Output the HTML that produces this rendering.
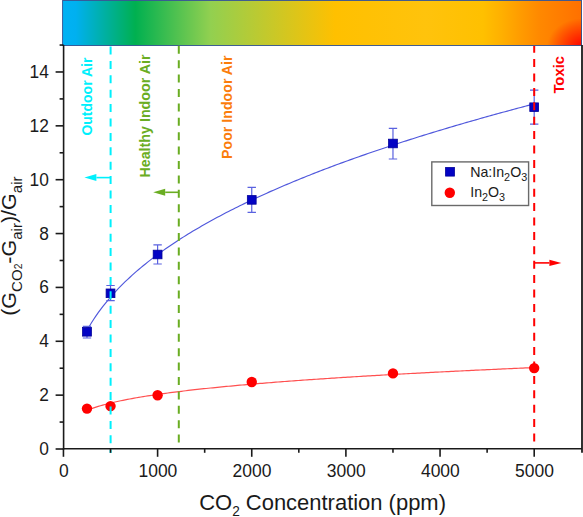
<!DOCTYPE html>
<html><head><meta charset="utf-8"><style>
html,body{margin:0;padding:0;background:#fff;}
svg{display:block;}
text{font-family:"Liberation Sans",sans-serif;}
</style></head><body>
<svg width="583" height="517" viewBox="0 0 583 517">
<defs>
<linearGradient id="bar" x1="0" y1="0" x2="1" y2="0">
<stop offset="0" stop-color="#00B2F4"/>
<stop offset="0.025" stop-color="#00B0F0"/>
<stop offset="0.14" stop-color="#00B050"/>
<stop offset="0.285" stop-color="#92D050"/>
<stop offset="0.525" stop-color="#FFC000"/>
<stop offset="0.70" stop-color="#FFC30C"/>
<stop offset="0.81" stop-color="#FFC000"/>
<stop offset="0.845" stop-color="#FFB000"/>
<stop offset="0.881" stop-color="#FF9C00"/>
<stop offset="0.92" stop-color="#FF8800"/>
<stop offset="1" stop-color="#FF7000"/>
</linearGradient>
<radialGradient id="redc" gradientUnits="userSpaceOnUse" cx="583" cy="47" r="36" gradientTransform="translate(583,47) scale(1,0.8) translate(-583,-47)">
<stop offset="0" stop-color="#FF0000" stop-opacity="1"/>
<stop offset="1" stop-color="#FF0000" stop-opacity="0"/>
</radialGradient>
</defs>
<rect x="0" y="0" width="583" height="517" fill="#fff"/>

<rect x="62.7" y="0.5" width="519" height="45" fill="url(#bar)"/>
<rect x="62.7" y="0.5" width="519" height="45" fill="url(#redc)"/>
<rect x="62.6" y="0.45" width="518.9" height="45" fill="none" stroke="#2F4F8F" stroke-width="0.9"/>
<path d="M86.99,330.37 L89.23,326.45 L91.48,322.75 L93.73,319.23 L95.98,315.87 L98.22,312.66 L100.47,309.59 L102.72,306.63 L104.97,303.78 L107.21,301.02 L109.46,298.36 L111.71,295.77 L113.96,293.27 L116.20,290.83 L118.45,288.46 L120.70,286.15 L122.94,283.90 L125.19,281.71 L127.44,279.56 L129.69,277.46 L131.93,275.41 L134.18,273.40 L136.43,271.43 L138.68,269.50 L140.92,267.61 L143.17,265.75 L145.42,263.93 L147.66,262.13 L149.91,260.37 L152.16,258.64 L154.41,256.93 L156.65,255.25 L158.90,253.60 L161.15,251.97 L163.40,250.37 L165.64,248.79 L167.89,247.23 L170.14,245.70 L172.38,244.18 L174.63,242.68 L176.88,241.21 L179.13,239.75 L181.37,238.31 L183.62,236.88 L185.87,235.48 L188.12,234.09 L190.36,232.72 L192.61,231.36 L194.86,230.02 L197.11,228.69 L199.35,227.38 L201.60,226.08 L203.85,224.79 L206.09,223.52 L208.34,222.26 L210.59,221.01 L212.84,219.78 L215.08,218.55 L217.33,217.34 L219.58,216.14 L221.83,214.95 L224.07,213.77 L226.32,212.61 L228.57,211.45 L230.81,210.30 L233.06,209.16 L235.31,208.04 L237.56,206.92 L239.80,205.81 L242.05,204.71 L244.30,203.62 L246.55,202.53 L248.79,201.46 L251.04,200.39 L253.29,199.34 L255.53,198.29 L257.78,197.25 L260.03,196.21 L262.28,195.18 L264.52,194.17 L266.77,193.15 L269.02,192.15 L271.27,191.15 L273.51,190.16 L275.76,189.18 L278.01,188.20 L280.26,187.23 L282.50,186.27 L284.75,185.31 L287.00,184.36 L289.24,183.41 L291.49,182.47 L293.74,181.54 L295.99,180.61 L298.23,179.69 L300.48,178.78 L302.73,177.86 L304.98,176.96 L307.22,176.06 L309.47,175.17 L311.72,174.28 L313.96,173.39 L316.21,172.51 L318.46,171.64 L320.71,170.77 L322.95,169.91 L325.20,169.05 L327.45,168.19 L329.70,167.34 L331.94,166.50 L334.19,165.66 L336.44,164.82 L338.68,163.99 L340.93,163.16 L343.18,162.34 L345.43,161.52 L347.67,160.71 L349.92,159.90 L352.17,159.09 L354.42,158.29 L356.66,157.49 L358.91,156.70 L361.16,155.91 L363.41,155.12 L365.65,154.34 L367.90,153.56 L370.15,152.78 L372.39,152.01 L374.64,151.24 L376.89,150.48 L379.14,149.71 L381.38,148.96 L383.63,148.20 L385.88,147.45 L388.13,146.70 L390.37,145.96 L392.62,145.22 L394.87,144.48 L397.11,143.75 L399.36,143.02 L401.61,142.29 L403.86,141.56 L406.10,140.84 L408.35,140.12 L410.60,139.41 L412.85,138.69 L415.09,137.98 L417.34,137.28 L419.59,136.57 L421.84,135.87 L424.08,135.17 L426.33,134.48 L428.58,133.78 L430.82,133.09 L433.07,132.41 L435.32,131.72 L437.57,131.04 L439.81,130.36 L442.06,129.68 L444.31,129.01 L446.56,128.34 L448.80,127.67 L451.05,127.00 L453.30,126.34 L455.54,125.67 L457.79,125.02 L460.04,124.36 L462.29,123.70 L464.53,123.05 L466.78,122.40 L469.03,121.75 L471.28,121.11 L473.52,120.47 L475.77,119.83 L478.02,119.19 L480.26,118.55 L482.51,117.92 L484.76,117.29 L487.01,116.66 L489.25,116.03 L491.50,115.40 L493.75,114.78 L496.00,114.16 L498.24,113.54 L500.49,112.92 L502.74,112.31 L504.99,111.69 L507.23,111.08 L509.48,110.47 L511.73,109.87 L513.97,109.26 L516.22,108.66 L518.47,108.06 L520.72,107.46 L522.96,106.86 L525.21,106.27 L527.46,105.67 L529.71,105.08 L531.95,104.49 L534.20,103.90" fill="none" stroke="#5058DC" stroke-width="1.15"/>
<path d="M86.99,410.32 L89.23,409.43 L91.48,408.60 L93.73,407.82 L95.98,407.08 L98.22,406.38 L100.47,405.71 L102.72,405.07 L104.97,404.46 L107.21,403.88 L109.46,403.31 L111.71,402.77 L113.96,402.24 L116.20,401.73 L118.45,401.24 L120.70,400.76 L122.94,400.30 L125.19,399.85 L127.44,399.41 L129.69,398.98 L131.93,398.57 L134.18,398.16 L136.43,397.76 L138.68,397.38 L140.92,397.00 L143.17,396.63 L145.42,396.26 L147.66,395.91 L149.91,395.56 L152.16,395.22 L154.41,394.88 L156.65,394.55 L158.90,394.23 L161.15,393.91 L163.40,393.60 L165.64,393.29 L167.89,392.99 L170.14,392.69 L172.38,392.40 L174.63,392.11 L176.88,391.83 L179.13,391.55 L181.37,391.28 L183.62,391.00 L185.87,390.74 L188.12,390.47 L190.36,390.21 L192.61,389.96 L194.86,389.70 L197.11,389.45 L199.35,389.21 L201.60,388.96 L203.85,388.72 L206.09,388.48 L208.34,388.25 L210.59,388.01 L212.84,387.78 L215.08,387.56 L217.33,387.33 L219.58,387.11 L221.83,386.89 L224.07,386.67 L226.32,386.45 L228.57,386.24 L230.81,386.03 L233.06,385.82 L235.31,385.61 L237.56,385.41 L239.80,385.21 L242.05,385.01 L244.30,384.81 L246.55,384.61 L248.79,384.41 L251.04,384.22 L253.29,384.03 L255.53,383.84 L257.78,383.65 L260.03,383.46 L262.28,383.28 L264.52,383.09 L266.77,382.91 L269.02,382.73 L271.27,382.55 L273.51,382.37 L275.76,382.20 L278.01,382.02 L280.26,381.85 L282.50,381.68 L284.75,381.51 L287.00,381.34 L289.24,381.17 L291.49,381.00 L293.74,380.83 L295.99,380.67 L298.23,380.51 L300.48,380.34 L302.73,380.18 L304.98,380.02 L307.22,379.86 L309.47,379.71 L311.72,379.55 L313.96,379.39 L316.21,379.24 L318.46,379.09 L320.71,378.93 L322.95,378.78 L325.20,378.63 L327.45,378.48 L329.70,378.33 L331.94,378.18 L334.19,378.04 L336.44,377.89 L338.68,377.75 L340.93,377.60 L343.18,377.46 L345.43,377.32 L347.67,377.18 L349.92,377.04 L352.17,376.90 L354.42,376.76 L356.66,376.62 L358.91,376.48 L361.16,376.34 L363.41,376.21 L365.65,376.07 L367.90,375.94 L370.15,375.81 L372.39,375.67 L374.64,375.54 L376.89,375.41 L379.14,375.28 L381.38,375.15 L383.63,375.02 L385.88,374.89 L388.13,374.76 L390.37,374.63 L392.62,374.51 L394.87,374.38 L397.11,374.26 L399.36,374.13 L401.61,374.01 L403.86,373.88 L406.10,373.76 L408.35,373.64 L410.60,373.52 L412.85,373.40 L415.09,373.28 L417.34,373.16 L419.59,373.04 L421.84,372.92 L424.08,372.80 L426.33,372.68 L428.58,372.56 L430.82,372.45 L433.07,372.33 L435.32,372.22 L437.57,372.10 L439.81,371.99 L442.06,371.87 L444.31,371.76 L446.56,371.65 L448.80,371.53 L451.05,371.42 L453.30,371.31 L455.54,371.20 L457.79,371.09 L460.04,370.98 L462.29,370.87 L464.53,370.76 L466.78,370.65 L469.03,370.54 L471.28,370.44 L473.52,370.33 L475.77,370.22 L478.02,370.11 L480.26,370.01 L482.51,369.90 L484.76,369.80 L487.01,369.69 L489.25,369.59 L491.50,369.48 L493.75,369.38 L496.00,369.28 L498.24,369.18 L500.49,369.07 L502.74,368.97 L504.99,368.87 L507.23,368.77 L509.48,368.67 L511.73,368.57 L513.97,368.47 L516.22,368.37 L518.47,368.27 L520.72,368.17 L522.96,368.07 L525.21,367.97 L527.46,367.88 L529.71,367.78 L531.95,367.68 L534.20,367.58" fill="none" stroke="#FF5050" stroke-width="1.2"/>
<path d="M86.99,326.4 L86.99,338 M82.79,326.4 L91.19,326.4 M82.79,338 L91.19,338" stroke="#5A62E0" stroke-width="1.2" fill="none"/>
<path d="M110.53,285.5 L110.53,300.6 M106.33,285.5 L114.73,285.5 M106.33,300.6 L114.73,300.6" stroke="#5A62E0" stroke-width="1.2" fill="none"/>
<path d="M157.60,244.8 L157.60,264 M153.40,244.8 L161.80,244.8 M153.40,264 L161.80,264" stroke="#5A62E0" stroke-width="1.2" fill="none"/>
<path d="M251.75,187.4 L251.75,212.4 M247.55,187.4 L255.95,187.4 M247.55,212.4 L255.95,212.4" stroke="#5A62E0" stroke-width="1.2" fill="none"/>
<path d="M392.97,128.3 L392.97,159 M388.77,128.3 L397.17,128.3 M388.77,159 L397.17,159" stroke="#5A62E0" stroke-width="1.2" fill="none"/>
<path d="M534.20,90.2 L534.20,124.2 M530.00,90.2 L538.40,90.2 M530.00,124.2 L538.40,124.2" stroke="#5A62E0" stroke-width="1.2" fill="none"/>
<rect x="82.59" y="327.50" width="8.8" height="8.6" fill="#0303C4" stroke="#00009A" stroke-width="0.8"/>
<rect x="106.12" y="289.00" width="8.8" height="8.6" fill="#0303C4" stroke="#00009A" stroke-width="0.8"/>
<rect x="153.20" y="250.20" width="8.8" height="8.6" fill="#0303C4" stroke="#00009A" stroke-width="0.8"/>
<rect x="247.35" y="195.60" width="8.8" height="8.6" fill="#0303C4" stroke="#00009A" stroke-width="0.8"/>
<rect x="388.57" y="139.20" width="8.8" height="8.6" fill="#0303C4" stroke="#00009A" stroke-width="0.8"/>
<rect x="529.80" y="102.90" width="8.8" height="8.6" fill="#0303C4" stroke="#00009A" stroke-width="0.8"/>
<circle cx="86.99" cy="408.59999999999997" r="5.2" fill="#FF0000"/>
<circle cx="110.53" cy="406.09999999999997" r="5.2" fill="#FF0000"/>
<circle cx="157.60" cy="395.2" r="5.2" fill="#FF0000"/>
<circle cx="251.75" cy="382.0" r="5.2" fill="#FF0000"/>
<circle cx="392.97" cy="373.4" r="5.2" fill="#FF0000"/>
<circle cx="534.20" cy="368.09999999999997" r="5.2" fill="#FF0000"/>
<line x1="110.6" y1="46.5" x2="110.6" y2="453" stroke="#00F0FC" stroke-width="2" stroke-dasharray="8 6.4" stroke-dashoffset="0.00"/>
<line x1="178.8" y1="45.8" x2="178.8" y2="449" stroke="#6AAD22" stroke-width="2" stroke-dasharray="8 6.4" stroke-dashoffset="0.00"/>
<line x1="534.2" y1="46" x2="534.2" y2="449" stroke="#FF0000" stroke-width="2" stroke-dasharray="8 6.4" stroke-dashoffset="1.30"/>
<line x1="110.6" y1="177.6" x2="96.4" y2="177.6" stroke="#00F0FC" stroke-width="1.6"/><path d="M84.4,177.6 L96.4,174.1 L96.4,181.1 Z" fill="#00F0FC"/>
<line x1="178.8" y1="192.3" x2="165.2" y2="192.3" stroke="#6AAD22" stroke-width="1.6"/><path d="M153.2,192.3 L165.2,188.8 L165.2,195.8 Z" fill="#6AAD22"/>
<line x1="534.2" y1="262.9" x2="549.4" y2="262.9" stroke="#FF0000" stroke-width="1.6"/><path d="M561.4,262.9 L549.4,259.7 L549.4,266.09999999999997 Z" fill="#FF0000"/>
<g stroke="#1a1a1a" stroke-width="1.6" fill="none">
<line x1="63.6" y1="45" x2="63.6" y2="449.6"/>
<line x1="62.8" y1="448.8" x2="582" y2="448.8"/>
<line x1="582" y1="45" x2="582" y2="452.8" stroke-width="1.8"/>
<line x1="55.6" y1="449.00" x2="63.6" y2="449.00"/>
<line x1="59.6" y1="422.07" x2="63.6" y2="422.07"/>
<line x1="55.6" y1="395.14" x2="63.6" y2="395.14"/>
<line x1="59.6" y1="368.21" x2="63.6" y2="368.21"/>
<line x1="55.6" y1="341.28" x2="63.6" y2="341.28"/>
<line x1="59.6" y1="314.35" x2="63.6" y2="314.35"/>
<line x1="55.6" y1="287.42" x2="63.6" y2="287.42"/>
<line x1="59.6" y1="260.49" x2="63.6" y2="260.49"/>
<line x1="55.6" y1="233.56" x2="63.6" y2="233.56"/>
<line x1="59.6" y1="206.63" x2="63.6" y2="206.63"/>
<line x1="55.6" y1="179.70" x2="63.6" y2="179.70"/>
<line x1="59.6" y1="152.77" x2="63.6" y2="152.77"/>
<line x1="55.6" y1="125.84" x2="63.6" y2="125.84"/>
<line x1="59.6" y1="98.91" x2="63.6" y2="98.91"/>
<line x1="55.6" y1="71.98" x2="63.6" y2="71.98"/>
<line x1="59.6" y1="45.05" x2="63.6" y2="45.05"/>
<line x1="63.45" y1="448.8" x2="63.45" y2="456.8"/>
<line x1="110.53" y1="448.8" x2="110.53" y2="452.8"/>
<line x1="157.60" y1="448.8" x2="157.60" y2="456.8"/>
<line x1="204.68" y1="448.8" x2="204.68" y2="452.8"/>
<line x1="251.75" y1="448.8" x2="251.75" y2="456.8"/>
<line x1="298.82" y1="448.8" x2="298.82" y2="452.8"/>
<line x1="345.90" y1="448.8" x2="345.90" y2="456.8"/>
<line x1="392.97" y1="448.8" x2="392.97" y2="452.8"/>
<line x1="440.05" y1="448.8" x2="440.05" y2="456.8"/>
<line x1="487.12" y1="448.8" x2="487.12" y2="452.8"/>
<line x1="534.20" y1="448.8" x2="534.20" y2="456.8"/>
</g>
<g font-size="17.5" fill="#1a1a1a">
<text transform="translate(48.8,455.00) scale(0.99,1.02)" text-anchor="end">0</text>
<text transform="translate(48.8,401.14) scale(0.99,1.02)" text-anchor="end">2</text>
<text transform="translate(48.8,347.28) scale(0.99,1.02)" text-anchor="end">4</text>
<text transform="translate(48.8,293.42) scale(0.99,1.02)" text-anchor="end">6</text>
<text transform="translate(48.8,239.56) scale(0.99,1.02)" text-anchor="end">8</text>
<text transform="translate(48.8,185.70) scale(0.99,1.02)" text-anchor="end">10</text>
<text transform="translate(48.8,131.84) scale(0.99,1.02)" text-anchor="end">12</text>
<text transform="translate(48.8,77.98) scale(0.99,1.02)" text-anchor="end">14</text>
<text transform="translate(63.75,476.9) scale(1,1.02)" text-anchor="middle">0</text>
<text transform="translate(157.90,476.9) scale(1,1.02)" text-anchor="middle">1000</text>
<text transform="translate(252.05,476.9) scale(1,1.02)" text-anchor="middle">2000</text>
<text transform="translate(346.20,476.9) scale(1,1.02)" text-anchor="middle">3000</text>
<text transform="translate(440.35,476.9) scale(1,1.02)" text-anchor="middle">4000</text>
<text transform="translate(534.50,476.9) scale(1,1.02)" text-anchor="middle">5000</text>
</g>
<text transform="translate(199.2,510.4) scale(0.9765,1)" font-size="22.5" fill="#1a1a1a">CO<tspan font-size="14" dy="5.6">2</tspan><tspan dy="-5.6"> Concentration (ppm)</tspan></text>
<text transform="translate(16.3,315.8) scale(1,1.024) rotate(-90)" font-size="21" fill="#1a1a1a">(G<tspan font-size="14.7" dy="6">CO</tspan><tspan font-size="10">2</tspan><tspan dy="-6">-G</tspan><tspan font-size="14.7" dy="6">air</tspan><tspan dy="-6">)/G</tspan><tspan font-size="14.7" dy="6">air</tspan></text>
<text transform="translate(91.7,135.6) rotate(-90)" font-size="14" font-weight="bold" fill="#00F0FC">Outdoor Air</text>
<text transform="translate(150.3,177.6) scale(1,1.021) rotate(-90)" font-size="14" font-weight="bold" fill="#6AAD22">Healthy Indoor Air</text>
<text transform="translate(232.4,158.9) scale(1,1.014) rotate(-90)" font-size="14" font-weight="bold" fill="#FB7D0B">Poor Indoor Air</text>
<text transform="translate(564.3,93.6) scale(1,1.06) rotate(-90)" font-size="14" font-weight="bold" fill="#FF0000">Toxic</text>
<rect x="431.8" y="161.9" width="96.8" height="43.6" fill="#fff" stroke="#6a6a6a" stroke-width="1.4"/>
<rect x="445.6" y="167.5" width="8.8" height="8.6" fill="#0303C4" stroke="#00009A" stroke-width="0.8"/>
<circle cx="449.8" cy="192.8" r="5.2" fill="#FF0000"/>
<text x="470.2" y="176.6" font-size="14.2" fill="#1a1a1a">Na:In<tspan font-size="10.8" dy="4.3">2</tspan><tspan dy="-4.3">O</tspan><tspan font-size="10.8" dy="4.3">3</tspan></text>
<text x="470.2" y="196.9" font-size="14.2" fill="#1a1a1a">In<tspan font-size="10.8" dy="4.3">2</tspan><tspan dy="-4.3">O</tspan><tspan font-size="10.8" dy="4.3">3</tspan></text>
</svg></body></html>
